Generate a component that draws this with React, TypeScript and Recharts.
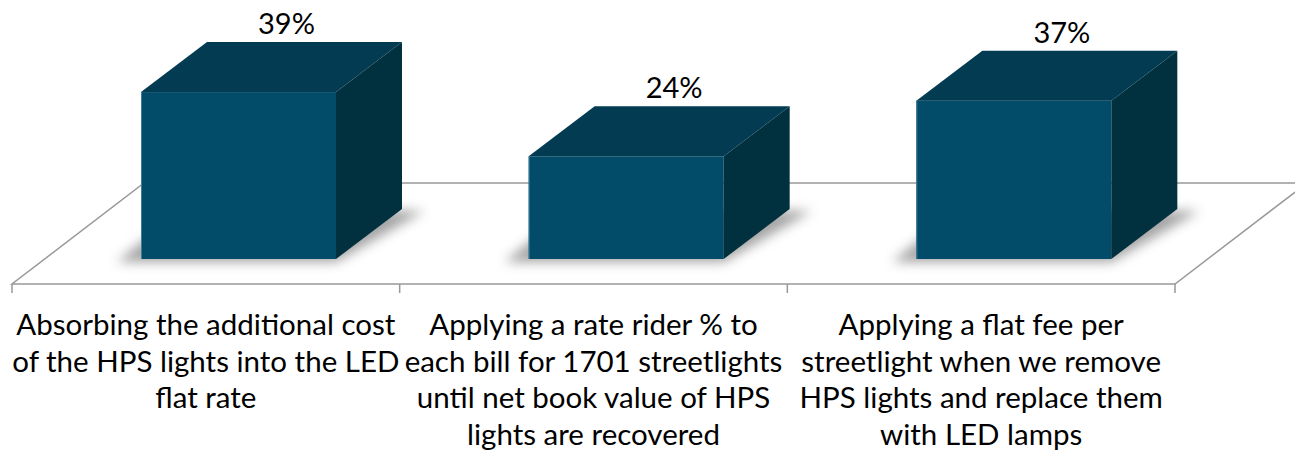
import { BarChart, Bar, XAxis, YAxis, LabelList } from 'recharts';

// values
const categories = [
  'Absorbing the additional cost of the HPS lights into the LED flat rate',
  'Applying a rate rider % to each bill for 1701 streetlights until net book value of HPS lights are recovered',
  'Applying a flat fee per streetlight when we remove HPS lights and replace them with LED lamps',
];
const shares = [39, 24, 37];
const tickLines = [
  ['Absorbing the additional cost', 'of the HPS lights into the LED', 'flat rate'],
  ['Applying a rate rider % to', 'each bill for 1701 streetlights', 'until net book value of HPS', 'lights are recovered'],
  ['Applying a flat fee per', 'streetlight when we remove', 'HPS lights and replace them', 'with LED lamps'],
];

const data = categories.map((name, i) => ({ name, value: shares[i], lines: tickLines[i] }));

const W = 1295;
const H = 459;
const FONT = 'Lato, "Open Sans", sans-serif';

// fake 3d geometry
const DX = 66;
const DY = 50;
const FLOOR_L = 12;
const FLOOR_R = 1175;
const FLOOR_Y = 284;
const FRONT = '#024b69';
const TOP = '#033c52';
const SIDE = '#01303f';

function Floor() {
  const bx = DX * 2;
  const by = DY * 2 + 1;
  const step = (FLOOR_R - FLOOR_L) / categories.length;
  const ticks = Array.from({ length: categories.length + 1 }, (_, i) => FLOOR_L + i * step);
  return (
    <svg width={W} height={H} style={{ position: 'absolute', left: 0, top: 0 }}>
      <polygon
        points={`${FLOOR_L},${FLOOR_Y} ${FLOOR_R},${FLOOR_Y} ${FLOOR_R + bx},${FLOOR_Y - by} ${FLOOR_L + bx},${FLOOR_Y - by}`}
        fill="#ffffff"
        stroke="#999999"
        strokeWidth={1.5}
      />
      {ticks.map((t) => (
        <line key={t} x1={t} x2={t} y1={FLOOR_Y} y2={FLOOR_Y + 9} stroke="#999999" strokeWidth={1.5} />
      ))}
    </svg>
  );
}

function Box3D(props: any) {
  const { x, y, width, height } = props;
  const b = y + height;
  return (
    <g>
      <polygon
        points={`${x - 24},${b + 3} ${x + width},${b + 3} ${x + width + DX + 22},${b - DY + 2} ${x + DX - 24},${b - DY}`}
        fill="#4a4a4a"
        opacity={0.5}
        filter="url(#boxShadow)"
      />
      <rect x={x} y={y} width={width} height={height} fill={FRONT} />
      <line x1={x + 0.5} x2={x + 0.5} y1={y} y2={b} stroke="#3f7d99" strokeWidth={1} />
      <polygon
        points={`${x},${y} ${x + DX},${y - DY} ${x + width + DX},${y - DY} ${x + width},${y}`}
        fill={TOP}
      />
      <polygon
        points={`${x + width},${y} ${x + width + DX},${y - DY} ${x + width + DX},${b - DY} ${x + width},${b}`}
        fill={SIDE}
      />
    </g>
  );
}

function TopLabel(props: any) {
  const { x, y, width, value } = props;
  return (
    <text x={x + width / 2 + 48} y={y - 58} textAnchor="middle" fontSize={29} fill="#000" fontFamily={FONT}>
      {value}%
    </text>
  );
}

function CategoryTick(props: any) {
  const { x, index } = props;
  const lines = data[index]?.lines ?? [];
  return (
    <text x={x - DX / 2} y={335} textAnchor="middle" fontSize={29.5} fill="#000" fontFamily={FONT}>
      {lines.map((l: string, i: number) => (
        <tspan key={i} x={x - DX / 2} dy={i === 0 ? 0 : 36.5}>
          {l}
        </tspan>
      ))}
    </text>
  );
}

export default function App() {
  return (
    <div style={{ position: 'absolute', left: 0, top: 0, width: W, height: H, background: '#fff' }}>
      <Floor />
      <div style={{ position: 'absolute', left: 0, top: 0 }}>
        <BarChart width={W} height={H} data={data} margin={{ top: 45, right: W - FLOOR_R - DX / 2, left: FLOOR_L + DX / 2, bottom: 0 }}>
          <defs>
            <filter id="boxShadow" x="-20%" y="-50%" width="140%" height="200%">
              <feGaussianBlur stdDeviation="6" />
            </filter>
          </defs>
          <XAxis dataKey="name" height={200} axisLine={false} tickLine={false} interval={0} tick={<CategoryTick />} />
          <YAxis hide domain={[0, 50]} />
          <Bar dataKey="value" barSize={195} shape={<Box3D />} isAnimationActive={false}>
            <LabelList dataKey="value" content={<TopLabel />} />
          </Bar>
        </BarChart>
      </div>
    </div>
  );
}
